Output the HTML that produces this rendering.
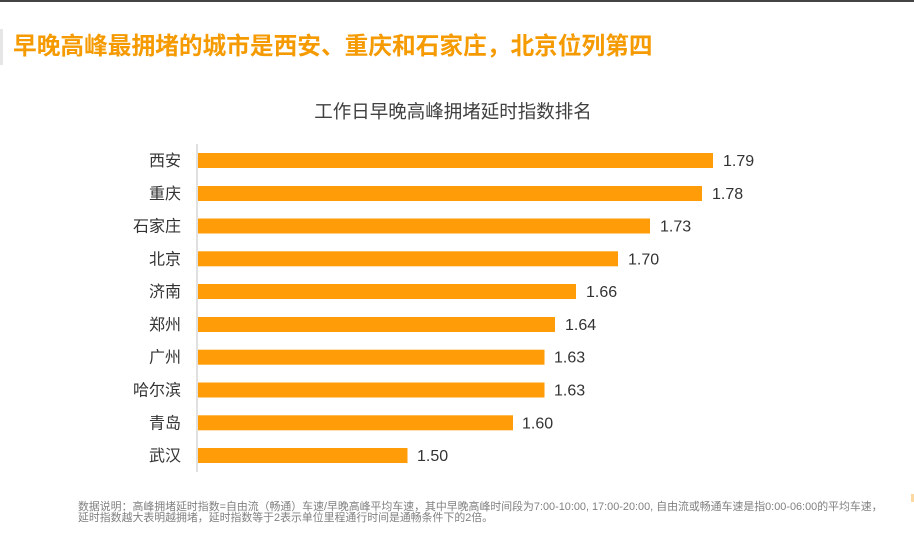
<!DOCTYPE html>
<html><head><meta charset="utf-8"><style>
html,body{margin:0;padding:0;background:#fff;}
body{width:914px;height:539px;overflow:hidden;position:relative;}
svg{position:absolute;left:0;top:0;}
</style></head><body>
<svg width="914" height="539" viewBox="0 0 914 539" xmlns="http://www.w3.org/2000/svg">
<rect x="0" y="0" width="914" height="2" fill="#444"/>
<rect x="0" y="29" width="3" height="36" fill="#e6e6e6"/>
<text x="13" y="54" font-family="'Liberation Sans','Noto Sans CJK SC',sans-serif" font-size="23.7" font-weight="bold" fill="#f59a00">早晚高峰最拥堵的城市是西安、重庆和石家庄，北京位列第四</text>
<text x="453" y="118" text-anchor="middle" font-family="'Liberation Sans','Noto Sans CJK SC',sans-serif" font-size="18.5" fill="#404040">工作日早晚高峰拥堵延时指数排名</text>
<rect x="196" y="144" width="2" height="328" fill="#e0e0e0"/>
<g fill="#ff9c08">
<rect x="198" y="153" width="515" height="15"/>
<rect x="198" y="186" width="504" height="15"/>
<rect x="198" y="218.5" width="452" height="15"/>
<rect x="198" y="251.3" width="420" height="15"/>
<rect x="198" y="284" width="378" height="15"/>
<rect x="198" y="317" width="357" height="15"/>
<rect x="198" y="349.7" width="346.5" height="15"/>
<rect x="198" y="382.5" width="346.5" height="15"/>
<rect x="198" y="415.3" width="315" height="15"/>
<rect x="198" y="448" width="209.5" height="15"/>
</g>
<g font-family="'Liberation Sans','Noto Sans CJK SC',sans-serif" font-size="16" fill="#333" text-anchor="end">
<text x="181" y="166">西安</text>
<text x="181" y="199">重庆</text>
<text x="181" y="231.5">石家庄</text>
<text x="181" y="264.3">北京</text>
<text x="181" y="297">济南</text>
<text x="181" y="330">郑州</text>
<text x="181" y="362.7">广州</text>
<text x="181" y="395.5">哈尔滨</text>
<text x="181" y="428.3">青岛</text>
<text x="181" y="461">武汉</text>
</g>
<g font-family="'Liberation Sans',sans-serif" font-size="16" fill="#333">
<text x="723" y="166">1.79</text>
<text x="712" y="199">1.78</text>
<text x="660" y="231.5">1.73</text>
<text x="628" y="264.3">1.70</text>
<text x="586" y="297">1.66</text>
<text x="565" y="330">1.64</text>
<text x="554" y="362.7">1.63</text>
<text x="554" y="395.5">1.63</text>
<text x="522" y="428.3">1.60</text>
<text x="417" y="461">1.50</text>
</g>
<g font-family="'Liberation Sans','Noto Sans CJK SC',sans-serif" font-size="10.9" fill="#808080">
<text x="78" y="510">数据说明：高峰拥堵延时指数=自由流（畅通）车速/早晚高峰平均车速，其中早晚高峰时间段为7:00-10:00, 17:00-20:00, 自由流或畅通车速是指0:00-06:00的平均车速，</text>
<text x="78" y="521">延时指数越大表明越拥堵，延时指数等于2表示单位里程通行时间是通畅条件下的2倍。</text>
</g>
<rect x="911" y="494" width="3" height="8" fill="#fbd9a0"/>
</svg>
</body></html>
